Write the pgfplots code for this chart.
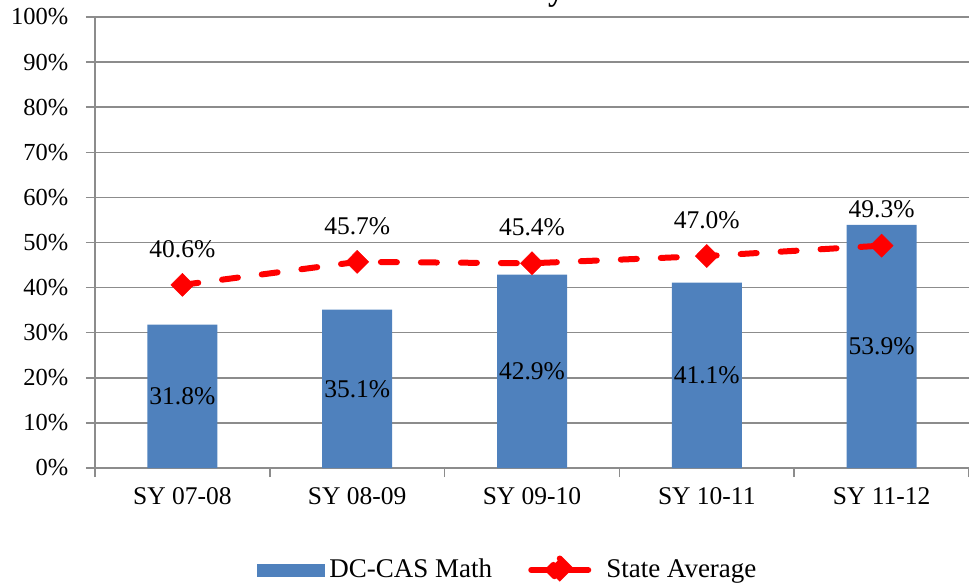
\documentclass[border=0pt]{standalone}
\usepackage{pgfplots}
\pgfplotsset{compat=1.18}
\usepackage{fontspec}
\setmainfont{Liberation Serif}
\definecolor{barblue}{HTML}{4F81BD}
\definecolor{gridgray}{HTML}{8C8C8C}
\begin{document}
\fontsize{25.5}{30}\selectfont
\begin{tikzpicture}
\begin{axis}[
  at={(0pt,0pt)}, anchor=south west,
  width=874pt, height=451pt, scale only axis,
  xmin=-0.5, xmax=4.5, ymin=0, ymax=100,
  axis x line=bottom, axis y line=left,
  axis line style={gridgray, line width=1.5pt, -},
  xtick={0,1,2,3,4},
  xticklabels={SY 07-08,SY 08-09,SY 09-10,SY 10-11,SY 11-12},
  minor xtick={-0.5,0.5,1.5,2.5,3.5,4.5},
  major x tick style={draw=none},
  minor x tick style={gridgray, line width=1.5pt},
  minor tick length=9pt,
  x tick label style={yshift=-2pt, font=\fontsize{25.5}{30}\selectfont},
  ytick={0,10,...,100},
  yticklabel={\pgfmathprintnumber{\tick}\%},
  y tick label style={xshift=-9pt, font=\fontsize{24.5}{30}\selectfont},
  ytick style={gridgray, line width=1.5pt},
  major tick length=9pt,
  tick align=outside,
  ymajorgrids, grid style={gridgray, line width=1.5pt},
  /pgf/number format/assume math mode=true,
  clip=false,
  legend style={at={(0.4725,-0.2262)}, anchor=center, draw=none, fill=none,
    font=\fontsize{27}{30}\selectfont, legend columns=-1,
    /tikz/every odd column/.append style={column sep=2pt},
    /tikz/every even column/.append style={column sep=34pt}},
]
\addplot[ybar, bar width=70pt, fill=barblue, draw=none,
  legend image code/.code={\fill[barblue] (0pt,-6.5pt) rectangle (68pt,6.5pt);}]
  coordinates {(0,31.8) (1,35.1) (2,42.9) (3,41.1) (4,53.9)};
\addlegendentry{DC-CAS Math}
\addplot[red, line width=6pt, dash pattern=on 16pt off 24pt, line cap=round, mark=diamond*,
  mark size=11.5pt, mark options={solid, fill=red, draw=red, line width=0.5pt, xscale=1.33},
  legend image code/.code={\draw[red, line width=6pt, solid, line cap=round] (3pt,0pt) -- (60pt,0pt);
    \fill[red] (31.5pt,11.5pt) -- (43pt,0pt) -- (31.5pt,-11.5pt) -- (20pt,0pt) -- cycle;
    \path (71pt,0pt);}]
  coordinates {(0,40.6) (1,45.7) (2,45.4) (3,47.0) (4,49.3)};
\addlegendentry{State Average}
% bar labels
\foreach \x/\v in {0/31.8,1/35.1,2/42.9,3/41.1,4/53.9}{
  \edef\temp{\noexpand\node at (axis cs:\x,\v/2) {\v\noexpand\%};}\temp
}
\foreach \x/\v in {0/40.6,1/45.7,2/45.4,3/47.0,4/49.3}{
  \edef\temp{\noexpand\node[above=36pt, anchor=center] at (axis cs:\x,\v) {\v\noexpand\%};}\temp
}
\end{axis}
\node[anchor=base, font=\fontsize{32}{36}\selectfont\bfseries] at (461pt,467pt) {y};
\pgfresetboundingbox
\path[use as bounding box] (-95pt,-118pt) rectangle (874pt,468pt);
\end{tikzpicture}
\end{document}
